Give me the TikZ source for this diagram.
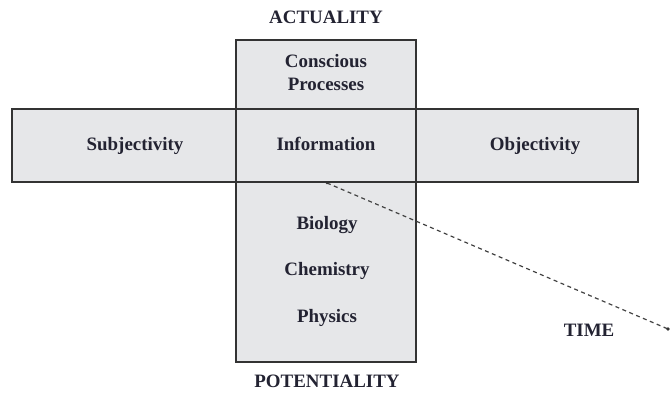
\documentclass[tikz,border=0pt]{standalone}
\usepackage{fontspec}
\setmainfont{Liberation Serif}
\usepackage{tikz}
\usepackage{xcolor}
\usetikzlibrary{arrows.meta}
\definecolor{boxgray}{RGB}{230,231,233}
\definecolor{lblink}{RGB}{35,35,50}
\tikzset{
  lbl/.style={font=\fontsize{19}{21}\selectfont\bfseries, text=lblink, anchor=base, inner sep=0pt},
  timeline/.style={line width=1.2pt, dash pattern=on 4pt off 3.5pt, black!75}
}

\begin{document}
\begin{tikzpicture}[x=1bp,y=1bp]
                \useasboundingbox (0,0) rectangle (671,394);
                % the two boxes
                \fill[boxgray] (236,32) rectangle (416,354);
                \fill[boxgray] (12,212) rectangle (638,285);
                \draw[line width=1.3pt, black!80] (236,32) rectangle (416,354);
                \draw[line width=1.3pt, black!80] (12,212) rectangle (638,285);
                % labels
                \node[lbl] (act) at (326,371) {ACTUALITY};
                \node[lbl] (cons) at (326,327) {Conscious};
                \node[lbl] (proc) at (326,304) {Processes};
                \node[lbl] (subj) at (135,244) {Subjectivity};
                \node[lbl] (info) at (326,244) {Information};
                \node[lbl] (obj) at (535,244) {Objectivity};
                \node[lbl] (bio) at (327,165) {Biology};
                \node[lbl] (chem) at (327,119) {Chemistry};
                \node[lbl] (phys) at (327,72) {Physics};
                \node[lbl] (pot) at (327,7) {POTENTIALITY};
                \node[lbl] (time) at (589,58) {TIME};
                % time axis
                \coordinate (tstart) at (327,211);
                \coordinate (tend) at (668,65);
                \draw[timeline] (tstart) -- (tend);
                \fill[black!80] (tstart) circle (1.3);
                \fill[black!80] (tend) circle (1.8);
            \end{tikzpicture}
\end{document}
